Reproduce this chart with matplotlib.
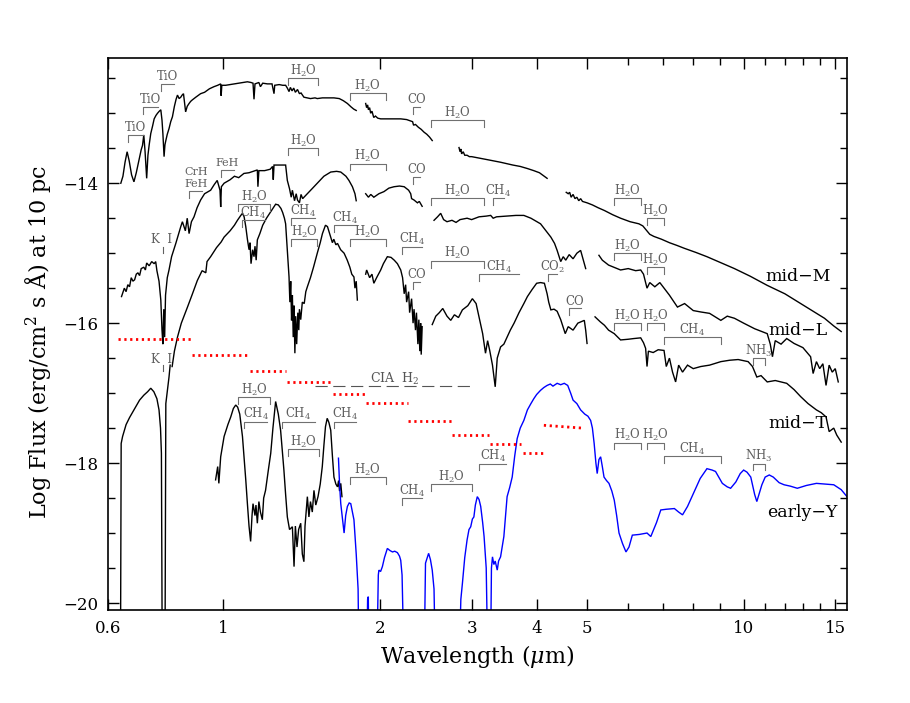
import numpy as np
import matplotlib
matplotlib.use('Agg')
import matplotlib.pyplot as plt
from matplotlib.ticker import FixedLocator, FixedFormatter, NullFormatter

plt.rcParams['font.family'] = ['DejaVu Serif']
plt.rcParams['mathtext.fontset'] = 'dejavuserif'

nan = np.nan

# ---------------- spectra: (wavelength [um], log flux) ----------------
mid_M = [
    (0.635, -14.00), (0.641, -13.90), (0.647, -13.70), (0.653, -13.55), (0.659, -13.68), (0.666, -13.88),
    (0.673, -13.98), (0.680, -13.85), (0.688, -13.67), (0.695, -13.52), (0.699, -13.46), (0.703, -13.31),
    (0.707, -13.55), (0.712, -13.93), (0.716, -13.60), (0.720, -13.45), (0.725, -13.29), (0.731, -13.18),
    (0.736, -13.08), (0.742, -13.03), (0.747, -13.00), (0.753, -12.97), (0.758, -12.95), (0.762, -13.10),
    (0.765, -13.29), (0.769, -13.62), (0.772, -13.45), (0.775, -13.39), (0.780, -13.30), (0.786, -13.22),
    (0.792, -13.12), (0.798, -13.05), (0.805, -12.90), (0.811, -12.80), (0.816, -12.74), (0.822, -12.79),
    (0.828, -12.77), (0.833, -12.74), (0.838, -12.72), (0.842, -12.85), (0.846, -12.98), (0.852, -12.90),
    (0.859, -12.86), (0.865, -12.83), (0.871, -12.81), (0.885, -12.77), (0.904, -12.72), (0.920, -12.70),
    (0.940, -12.65), (0.959, -12.62), (0.975, -12.60), (0.988, -12.58), (0.990, -12.75), (0.993, -12.60),
    (1.010, -12.60), (1.030, -12.59), (1.048, -12.58), (1.070, -12.57), (1.090, -12.56), (1.112, -12.55),
    (1.130, -12.56), (1.140, -12.57), (1.145, -12.80), (1.150, -12.58), (1.170, -12.56), (1.178, -12.62),
    (1.190, -12.57), (1.215, -12.58), (1.240, -12.58), (1.247, -12.67), (1.251, -12.72), (1.255, -12.60),
    (1.280, -12.59), (1.300, -12.60), (1.317, -12.60), (1.327, -12.64), (1.337, -12.69), (1.345, -12.63),
    (1.355, -12.68), (1.365, -12.64), (1.375, -12.70), (1.388, -12.66), (1.400, -12.72), (1.410, -12.71),
    (1.428, -12.77), (1.450, -12.78), (1.470, -12.79), (1.500, -12.78), (1.515, -12.79), (1.550, -12.78),
    (1.600, -12.78), (1.631, -12.78), (1.670, -12.79), (1.700, -12.82), (1.731, -12.86), (1.760, -12.91),
    (1.780, -12.94), (1.800, -12.96),
    (nan, nan),
    (1.877, -12.86), (1.885, -12.92), (1.893, -12.88), (1.900, -12.95), (1.910, -12.92), (1.919, -13.00),
    (1.930, -12.97), (1.945, -13.06), (1.960, -13.04), (1.980, -13.07), (2.006, -13.08), (2.050, -13.08),
    (2.100, -13.08), (2.150, -13.08), (2.192, -13.08), (2.250, -13.09), (2.290, -13.11), (2.310, -13.12),
    (2.320, -13.17), (2.340, -13.16), (2.370, -13.20), (2.400, -13.23), (2.430, -13.27), (2.460, -13.30),
    (2.490, -13.34), (2.520, -13.39),
    (nan, nan),
    (2.837, -13.49), (2.850, -13.55), (2.860, -13.51), (2.870, -13.58), (2.890, -13.55), (2.910, -13.60),
    (2.940, -13.60), (2.970, -13.62), (3.000, -13.62), (3.100, -13.64), (3.200, -13.66), (3.300, -13.68),
    (3.410, -13.70), (3.500, -13.72), (3.600, -13.74), (3.720, -13.76), (3.840, -13.79), (3.950, -13.82),
    (4.050, -13.85), (4.120, -13.89), (4.190, -13.93),
    (nan, nan),
    (4.56, -14.13), (4.60, -14.15), (4.63, -14.13), (4.66, -14.20), (4.70, -14.16), (4.74, -14.22),
    (4.78, -14.20), (4.82, -14.25), (4.86, -14.22), (4.90, -14.26), (5.00, -14.28), (5.12, -14.31),
    (5.25, -14.35), (5.40, -14.39), (5.60, -14.45), (5.80, -14.50), (6.05, -14.55), (6.29, -14.58),
    (6.40, -14.61), (6.50, -14.67), (6.60, -14.73), (6.72, -14.76), (6.95, -14.80), (7.20, -14.85),
    (7.45, -14.89), (7.69, -14.93), (8.10, -14.99), (8.50, -15.05), (9.00, -15.13), (9.60, -15.22),
    (10.3, -15.33), (11.1, -15.46), (12.0, -15.58), (12.87, -15.72), (13.6, -15.83), (14.3, -15.93),
    (14.9, -16.04), (15.4, -16.12),
]

mid_L = [
    (0.637, -15.62), (0.645, -15.50), (0.650, -15.55), (0.655, -15.45), (0.660, -15.48), (0.665, -15.35),
    (0.670, -15.40), (0.675, -15.38), (0.680, -15.30), (0.685, -15.28), (0.690, -15.32), (0.695, -15.22),
    (0.703, -15.20), (0.708, -15.24), (0.712, -15.14), (0.720, -15.18), (0.728, -15.12), (0.736, -15.15),
    (0.741, -15.12), (0.745, -15.25), (0.752, -15.40), (0.758, -15.67), (0.762, -16.10), (0.765, -16.30),
    (0.768, -15.80), (0.771, -16.20), (0.774, -15.60), (0.780, -15.35), (0.786, -15.24), (0.795, -15.05),
    (0.803, -14.95), (0.810, -14.86), (0.822, -14.70), (0.828, -14.62), (0.834, -14.55), (0.840, -14.62),
    (0.845, -14.68), (0.852, -14.50), (0.859, -14.72), (0.868, -14.55), (0.878, -14.48), (0.890, -14.35),
    (0.904, -14.24), (0.920, -14.15), (0.935, -14.12), (0.945, -14.10), (0.960, -14.02), (0.973, -13.96),
    (0.985, -14.10), (0.988, -14.34), (0.991, -14.05), (1.003, -14.00), (1.030, -13.95), (1.050, -13.90),
    (1.070, -13.92), (1.095, -13.86), (1.120, -13.85), (1.140, -13.83), (1.162, -13.81), (1.165, -14.05),
    (1.170, -13.82), (1.200, -13.82), (1.230, -13.80), (1.243, -13.76), (1.247, -13.95), (1.251, -13.74),
    (1.280, -13.74), (1.317, -13.74), (1.327, -13.96), (1.340, -14.08), (1.350, -14.20), (1.357, -14.10),
    (1.370, -14.25), (1.380, -14.15), (1.388, -14.24), (1.400, -14.28), (1.410, -14.16), (1.420, -14.22),
    (1.450, -14.15), (1.480, -14.08), (1.515, -14.00), (1.560, -13.90), (1.608, -13.84), (1.650, -13.83),
    (1.681, -13.84), (1.720, -13.90), (1.743, -13.96), (1.770, -14.05), (1.790, -14.15), (1.800, -14.25),
    (nan, nan),
    (1.877, -14.15), (1.900, -14.20), (1.920, -14.16), (1.946, -14.20), (1.990, -14.15), (2.035, -14.12),
    (2.080, -14.07), (2.128, -14.05), (2.180, -14.04), (2.226, -14.05), (2.270, -14.10), (2.291, -14.15),
    (2.300, -14.22), (2.325, -14.24), (2.360, -14.28), (2.380, -14.26), (2.410, -14.33),
    (nan, nan),
    (2.54, -14.53), (2.58, -14.48), (2.616, -14.43), (2.65, -14.52), (2.69, -14.55), (2.75, -14.53),
    (2.80, -14.56), (2.85, -14.52), (2.94, -14.50), (3.00, -14.52), (3.10, -14.48), (3.20, -14.47),
    (3.264, -14.46), (3.30, -14.50), (3.35, -14.48), (3.50, -14.47), (3.65, -14.46), (3.78, -14.46),
    (3.90, -14.50), (4.07, -14.58), (4.15, -14.66), (4.26, -14.77), (4.33, -14.86), (4.38, -14.96),
    (4.45, -15.12), (4.50, -15.05), (4.55, -15.10), (4.62, -15.02), (4.70, -15.08), (4.78, -15.00),
    (4.86, -14.96), (4.92, -15.10), (4.97, -15.22),
    (nan, nan),
    (5.27, -15.03), (5.35, -15.10), (5.50, -15.17), (5.80, -15.24), (6.00, -15.22), (6.20, -15.25),
    (6.34, -15.24), (6.42, -15.30), (6.52, -15.50), (6.60, -15.42), (6.75, -15.48), (6.90, -15.42),
    (7.03, -15.50), (7.20, -15.60), (7.46, -15.77), (7.70, -15.72), (8.00, -15.82), (8.27, -15.84),
    (8.60, -15.86), (9.04, -15.96), (9.30, -15.90), (9.60, -15.93), (10.0, -16.00), (10.5, -16.08),
    (11.1, -16.15), (11.25, -16.30), (11.36, -16.48), (11.5, -16.25), (11.8, -16.30), (12.1, -16.22),
    (12.5, -16.29), (13.0, -16.35), (13.45, -16.48), (13.6, -16.72), (13.8, -16.55), (14.0, -16.65),
    (14.2, -16.58), (14.4, -16.89), (14.6, -16.60), (14.8, -16.70), (15.0, -16.65), (15.2, -16.84),
]

mid_T = [
    (0.797, -16.62), (0.805, -16.40), (0.816, -16.20), (0.830, -16.00), (0.840, -15.90), (0.853, -15.77),
    (0.870, -15.60), (0.891, -15.39), (0.910, -15.25), (0.925, -15.28), (0.930, -15.12), (0.945, -15.05),
    (0.970, -14.92), (0.990, -14.84), (1.003, -14.77), (1.030, -14.68), (1.050, -14.60), (1.064, -14.53),
    (1.080, -14.46), (1.088, -14.43), (1.096, -14.48), (1.104, -14.62), (1.112, -14.80), (1.120, -14.95),
    (1.125, -14.85), (1.130, -15.15), (1.138, -14.95), (1.145, -15.05), (1.150, -14.90), (1.156, -15.10),
    (1.162, -14.81), (1.175, -14.72), (1.190, -14.60), (1.210, -14.50), (1.230, -14.42), (1.251, -14.34),
    (1.260, -14.30), (1.275, -14.31), (1.290, -14.36), (1.300, -14.42), (1.310, -14.50), (1.317, -14.58),
    (1.327, -14.95), (1.337, -15.34), (1.342, -15.70), (1.347, -15.40), (1.352, -15.96), (1.357, -15.60),
    (1.362, -16.20), (1.367, -15.75), (1.372, -16.43), (1.377, -15.90), (1.383, -16.30), (1.390, -15.85),
    (1.396, -16.10), (1.400, -15.80), (1.408, -15.95), (1.418, -15.70), (1.430, -15.72), (1.440, -15.55),
    (1.450, -15.48), (1.470, -15.35), (1.490, -15.20), (1.515, -15.00), (1.535, -14.85), (1.550, -14.72),
    (1.571, -14.60), (1.585, -14.62), (1.600, -14.72), (1.608, -14.77), (1.620, -14.85), (1.630, -14.80),
    (1.645, -14.88), (1.657, -14.86), (1.680, -14.95), (1.706, -15.00), (1.730, -15.10), (1.750, -15.20),
    (1.765, -15.30), (1.782, -15.34), (1.790, -15.50), (1.800, -15.40), (1.809, -15.67),
    (nan, nan),
    (1.877, -15.30), (1.885, -15.24), (1.910, -15.35), (1.930, -15.30), (1.946, -15.43), (1.970, -15.35),
    (2.006, -15.24), (2.030, -15.15), (2.066, -15.05), (2.100, -15.06), (2.130, -15.10), (2.160, -15.15),
    (2.192, -15.24), (2.210, -15.35), (2.226, -15.58), (2.240, -15.45), (2.250, -15.70), (2.270, -15.55),
    (2.280, -15.85), (2.300, -15.65), (2.315, -16.00), (2.325, -15.80), (2.340, -16.10), (2.350, -15.85),
    (2.365, -16.30), (2.375, -15.95), (2.385, -16.40), (2.394, -16.00), (2.400, -16.45), (2.410, -16.05),
    (nan, nan),
    (2.52, -16.02), (2.56, -15.90), (2.60, -15.85), (2.64, -15.79), (2.69, -15.90), (2.735, -15.96),
    (2.78, -15.88), (2.83, -15.92), (2.88, -15.81), (2.95, -15.75), (3.01, -15.65), (3.06, -15.72),
    (3.10, -15.91), (3.15, -16.15), (3.19, -16.43), (3.22, -16.25), (3.25, -16.39), (3.29, -16.60),
    (3.33, -16.91), (3.36, -16.50), (3.41, -16.34), (3.46, -16.30), (3.51, -16.20), (3.56, -16.10),
    (3.62, -16.00), (3.70, -15.85), (3.78, -15.72), (3.84, -15.62), (3.92, -15.52), (4.00, -15.43),
    (4.07, -15.42), (4.14, -15.43), (4.19, -15.58), (4.22, -15.70), (4.26, -15.81), (4.32, -15.80),
    (4.38, -15.83), (4.45, -15.95), (4.54, -16.15), (4.60, -16.05), (4.70, -16.10), (4.80, -16.00),
    (4.94, -15.96), (4.97, -16.10), (5.00, -16.29),
    (nan, nan),
    (5.18, -15.91), (5.30, -15.98), (5.40, -16.03), (5.50, -16.10), (5.64, -16.15), (5.80, -16.24),
    (6.00, -16.23), (6.15, -16.22), (6.34, -16.21), (6.42, -16.28), (6.48, -16.36), (6.52, -16.62),
    (6.56, -16.40), (6.70, -16.42), (6.85, -16.38), (7.03, -16.39), (7.10, -16.62), (7.20, -16.50),
    (7.30, -16.70), (7.40, -16.84), (7.50, -16.60), (7.63, -16.70), (7.80, -16.60), (8.00, -16.65),
    (8.27, -16.62), (8.60, -16.60), (9.04, -16.55), (9.40, -16.53), (9.76, -16.52), (10.2, -16.55),
    (10.4, -16.62), (10.6, -16.77), (10.8, -16.75), (11.1, -16.84), (11.5, -16.82), (12.1, -16.86),
    (12.5, -16.95), (12.87, -17.05), (13.3, -17.15), (13.8, -17.24), (14.1, -17.28), (14.4, -17.34),
    (14.6, -17.55), (14.9, -17.50), (15.1, -17.60), (15.4, -17.70),
]

early_Y_black = [
    (0.634, -21.0), (0.636, -17.72), (0.640, -17.62), (0.650, -17.45), (0.660, -17.35), (0.673, -17.24),
    (0.690, -17.10), (0.703, -17.03), (0.715, -16.98), (0.725, -16.93), (0.735, -16.98), (0.745, -17.08),
    (0.752, -17.24), (0.757, -17.50), (0.760, -17.86), (0.763, -21.0), (0.772, -21.0), (0.775, -17.15),
    (0.786, -16.77), (0.790, -16.60),
    (nan, nan),
    (0.966, -18.24), (0.975, -18.05), (0.980, -18.29), (0.988, -17.91), (1.003, -17.62), (1.020, -17.45),
    (1.033, -17.34), (1.045, -17.22), (1.056, -17.17), (1.065, -17.20), (1.075, -17.30), (1.088, -17.62),
    (1.104, -18.24), (1.112, -18.58), (1.120, -18.90), (1.128, -19.12), (1.135, -18.75), (1.140, -18.58),
    (1.150, -18.75), (1.155, -18.60), (1.162, -18.86), (1.170, -18.55), (1.178, -18.70), (1.188, -18.81),
    (1.195, -18.50), (1.205, -18.39), (1.220, -18.10), (1.233, -17.86), (1.245, -17.50), (1.260, -17.12),
    (1.275, -17.30), (1.288, -17.53), (1.297, -17.80), (1.307, -18.10), (1.317, -18.45), (1.327, -18.77),
    (1.340, -18.95), (1.357, -18.91), (1.367, -19.48), (1.375, -18.90), (1.385, -19.20), (1.395, -18.95),
    (1.408, -18.86), (1.418, -19.30), (1.428, -19.41), (1.435, -18.90), (1.450, -18.48), (1.460, -18.77),
    (1.470, -18.55), (1.482, -18.70), (1.493, -18.39), (1.505, -18.60), (1.520, -18.48), (1.535, -18.30),
    (1.549, -18.05), (1.560, -17.75), (1.571, -17.48), (1.583, -17.36), (1.595, -17.42), (1.608, -17.53),
    (1.620, -17.90), (1.631, -18.20), (1.645, -18.30), (1.657, -18.34), (1.665, -18.25), (1.672, -18.40),
    (1.681, -18.29), (1.690, -18.48),
]

early_Y_blue = [
    (1.664, -17.93), (1.672, -18.30), (1.681, -18.58), (1.694, -18.80), (1.706, -19.00), (1.718, -18.75),
    (1.731, -18.62), (1.745, -18.57), (1.757, -18.58), (1.770, -18.70), (1.782, -18.81), (1.800, -19.30),
    (1.815, -19.80), (1.823, -21.0), (1.885, -21.0), (1.893, -19.95), (1.899, -19.91), (1.905, -21.0),
    (1.970, -21.0), (1.985, -19.60), (1.990, -19.53), (2.005, -19.55), (2.021, -19.48), (2.040, -19.35),
    (2.066, -19.22), (2.090, -19.25), (2.113, -19.27), (2.135, -19.26), (2.160, -19.28), (2.180, -19.33),
    (2.192, -19.39), (2.205, -19.60), (2.226, -21.0), (2.430, -21.0), (2.446, -19.43), (2.480, -19.29),
    (2.500, -19.38), (2.520, -19.53), (2.540, -19.80), (2.557, -21.0), (2.837, -21.0), (2.860, -19.95),
    (2.880, -19.72), (2.910, -19.35), (2.940, -19.10), (2.965, -18.95), (2.988, -18.91), (3.010, -18.80),
    (3.030, -18.77), (3.050, -18.60), (3.076, -18.48), (3.100, -18.52), (3.123, -18.62), (3.150, -18.85),
    (3.170, -19.05), (3.200, -19.50), (3.225, -21.0), (3.260, -21.0), (3.275, -19.50), (3.290, -19.34),
    (3.310, -19.45), (3.330, -19.40), (3.360, -19.53), (3.380, -19.40), (3.410, -19.34), (3.460, -19.05),
    (3.510, -18.48), (3.550, -18.35), (3.590, -18.20), (3.630, -17.90), (3.670, -17.65), (3.720, -17.50),
    (3.780, -17.39), (3.840, -17.24), (3.900, -17.15), (3.950, -17.08), (4.000, -17.02), (4.070, -16.96),
    (4.130, -16.92), (4.190, -16.89), (4.250, -16.87), (4.300, -16.90), (4.380, -16.86), (4.450, -16.88),
    (4.520, -16.86), (4.590, -16.89), (4.650, -17.00), (4.700, -17.10), (4.780, -17.15), (4.860, -17.24),
    (4.950, -17.30), (5.020, -17.33), (5.080, -17.39), (5.120, -17.50), (5.160, -17.72), (5.200, -18.00),
    (5.230, -18.15), (5.270, -17.95), (5.310, -17.91), (5.350, -18.05), (5.390, -18.20), (5.450, -18.25),
    (5.510, -18.29), (5.580, -18.40), (5.640, -18.53), (5.700, -18.75), (5.760, -19.00), (5.850, -19.15),
    (5.940, -19.27), (6.020, -19.20), (6.110, -19.03), (6.300, -19.02), (6.520, -19.00), (6.630, -19.05),
    (6.800, -18.85), (6.930, -18.67), (7.100, -18.66), (7.360, -18.65), (7.500, -18.70), (7.630, -18.74),
    (7.800, -18.62), (8.010, -18.43), (8.250, -18.22), (8.500, -18.08), (8.700, -18.10), (8.830, -18.12),
    (9.100, -18.29), (9.300, -18.34), (9.440, -18.36), (9.660, -18.27), (9.850, -18.15), (10.00, -18.10),
    (10.15, -18.13), (10.32, -18.20), (10.50, -18.45), (10.60, -18.55), (10.70, -18.45), (10.84, -18.31),
    (11.00, -18.20), (11.20, -18.17), (11.40, -18.20), (11.70, -18.28), (11.96, -18.31), (12.30, -18.33),
    (12.68, -18.36), (13.20, -18.32), (13.80, -18.29), (14.30, -18.30), (14.90, -18.31), (15.40, -18.38),
    (15.80, -18.48),
]

# photometric bands (red dotted): start, end wavelength, log flux at start, at end
phot_x0 = [0.626, 0.871, 1.125, 1.327, 1.626, 1.877, 2.26, 2.75, 3.26, 3.76, 4.13]
phot_x1 = [0.875, 1.120, 1.320, 1.626, 1.870, 2.260, 2.75, 3.24, 3.74, 4.13, 4.90]
phot_y0 = [-16.23, -16.45, -16.68, -16.84, -17.01, -17.14, -17.40, -17.60, -17.73, -17.85, -17.46]
phot_y1 = [-16.23, -16.45, -16.68, -16.84, -17.01, -17.14, -17.40, -17.60, -17.73, -17.85, -17.50]

# CIA H2 dashed line
cia_x = [1.503, 3.0]
cia_y = [-16.90, -16.90]

# band labels: text, start, end wavelength, bracket level, end ticks ('b' both, 'l' left, 'n' none)
band_text = ['TiO', 'TiO', 'TiO', 'H$_2$O', 'H$_2$O', 'CO', 'H$_2$O', 'H$_2$O', 'H$_2$O',
             'CrH', 'FeH', 'FeH', 'H$_2$O', 'H$_2$O', 'CO', 'H$_2$O', 'CH$_4$', 'H$_2$O', 'H$_2$O',
             'H$_2$O', 'CH$_4$', 'CH$_4$', 'H$_2$O', 'CH$_4$', 'H$_2$O', 'CH$_4$', 'CO', 'H$_2$O',
             'CH$_4$', 'CO$_2$', 'CO', 'H$_2$O', 'H$_2$O', 'CH$_4$', 'NH$_3$',
             'H$_2$O', 'CH$_4$', 'CH$_4$', 'H$_2$O', 'CH$_4$', 'H$_2$O', 'CH$_4$', 'H$_2$O', 'CH$_4$',
             'H$_2$O', 'H$_2$O', 'CH$_4$', 'NH$_3$']
band_x0 = [0.656, 0.700, 0.758, 1.33, 1.75, 2.31, 2.51, 5.64, 6.52,
           0.859, 0.859, 0.988, 1.33, 1.75, 2.31, 2.51, 3.30, 5.64, 6.52,
           1.069, 1.088, 1.347, 1.347, 1.631, 1.75, 2.20, 2.31, 2.51,
           3.10, 4.20, 4.61, 5.64, 6.52, 7.03, 10.4,
           1.069, 1.095, 1.298, 1.33, 1.631, 1.75, 2.20, 2.51, 3.10,
           5.64, 6.52, 7.03, 10.4]
band_x1 = [0.699, 0.747, 0.804, 1.522, 2.05, 2.39, 3.17, 6.34, 7.03,
           0.911, 0.911, 1.048, 1.522, 2.05, 2.39, 3.17, 3.46, 6.34, 7.03,
           1.229, 1.200, 1.498, 1.515, 1.796, 2.05, 2.41, 2.39, 3.17,
           3.70, 4.38, 4.86, 6.34, 7.03, 9.04, 11.0,
           1.229, 1.215, 1.498, 1.526, 1.796, 2.05, 2.41, 3.00, 3.50,
           6.34, 7.03, 9.04, 11.0]
band_y = [-13.31, -12.91, -12.58, -12.50, -12.71, -12.91, -13.10, -14.21, -14.50,
          -13.93, -14.11, -13.81, -13.50, -13.72, -13.91, -14.21, -14.21, -15.00, -15.20,
          -14.30, -14.53, -14.50, -14.80, -14.60, -14.80, -14.91, -15.41, -15.11,
          -15.30, -15.30, -15.79, -16.00, -16.00, -16.20, -16.50,
          -17.06, -17.41, -17.41, -17.80, -17.41, -18.20, -18.50, -18.30, -18.01,
          -17.71, -17.71, -17.90, -18.01]
band_ends = ['l', 'l', 'l', 'b', 'b', 'l', 'b', 'b', 'b',
             'n', 'l', 'l', 'b', 'b', 'l', 'b', 'l', 'b', 'b',
             'b', 'l', 'l', 'b', 'l', 'b', 'l', 'l', 'b',
             'l', 'l', 'l', 'b', 'b', 'b', 'b',
             'b', 'l', 'l', 'b', 'l', 'b', 'l', 'b', 'l',
             'b', 'b', 'b', 'b']

# K I markers: text position and tick
ki_x = [0.760, 0.760]
ki_y = [-14.81, -16.52]
ki_tick_x = [0.767, 0.767]
ki_tick_top = [-14.91, -16.60]
ki_tick_bot = [-15.00, -16.68]

# spectral-type names
type_text = ['mid\u2212M', 'mid\u2212L', 'mid\u2212T', 'early\u2212Y']
type_x = [12.7, 12.7, 12.7, 12.97]
type_y = [-15.34, -16.10, -17.43, -18.70]

x_ticks = [0.6, 1, 2, 3, 4, 5, 10, 15]
x_tick_labels = ['0.6', '1', '2', '3', '4', '5', '10', '15']
x_minor = [6, 7, 8, 9, 11, 12, 13, 14]
y_ticks = [-20, -18, -16, -14]
y_minor = [-19.5, -19, -18.5, -17.5, -17, -16.5, -15.5, -15, -14.5, -13.5, -13, -12.5]

# ---------------- figure ----------------
fig = plt.figure(figsize=(9.1, 7.03), dpi=100)
ax = fig.add_axes([108 / 910, 1 - 610 / 703, (847 - 108) / 910, (610 - 58) / 703])
ax.set_xscale('log')
ax.set_xlim(0.6, 15.8)
ax.set_ylim(-20.1, -12.21)

def draw(pairs, color, lw):
    arr = np.array(pairs, dtype=float)
    ax.plot(arr[:, 0], arr[:, 1], color=color, lw=lw, solid_joinstyle='miter')

draw(mid_M, 'black', 1.0)
draw(mid_L, 'black', 1.0)
draw(mid_T, 'black', 1.0)
draw(early_Y_black, 'black', 1.0)
draw(early_Y_blue, '#0000ff', 1.0)

for x0, x1, y0, y1 in zip(phot_x0, phot_x1, phot_y0, phot_y1):
    ax.plot([x0, x1], [y0, y1], color='red', lw=2.0, linestyle=(0, (0.8, 1.3)),
            dash_capstyle='butt')

ax.plot(cia_x, cia_y, color='#555555', lw=0.8, linestyle=(0, (11, 5)))
ax.text(2.13, -16.90 + 0.05, 'CIA  H$_2$', color='#555555', fontsize=9,
        ha='center', va='baseline')

grey = '#606060'
tick_d = 0.095
for t, x0, x1, y, e in zip(band_text, band_x0, band_x1, band_y, band_ends):
    if e == 'b':
        ax.plot([x0, x0, x1, x1], [y - tick_d, y, y, y - tick_d], color='#707070', lw=0.8)
    elif e == 'l':
        ax.plot([x0, x0, x1], [y - tick_d, y, y], color='#707070', lw=0.8)
    xc = np.sqrt(x0 * x1)
    fs = 8.0 if t in ('CrH', 'FeH') else 8.5
    ax.text(xc, y + 0.05, t, color=grey, fontsize=fs, ha='center', va='baseline')

for tx, ty, kx, k0, k1 in zip(ki_x, ki_y, ki_tick_x, ki_tick_top, ki_tick_bot):
    ax.text(tx, ty, 'K  I', color=grey, fontsize=8.5, ha='center', va='center')
    ax.plot([kx, kx], [k0, k1], color=grey, lw=0.8)

for t, x, y in zip(type_text, type_x, type_y):
    ax.text(x, y, t, fontsize=12.5, ha='center', va='center', color='black')

ax.xaxis.set_major_locator(FixedLocator(x_ticks))
ax.xaxis.set_major_formatter(FixedFormatter(x_tick_labels))
ax.xaxis.set_minor_locator(FixedLocator(x_minor))
ax.xaxis.set_minor_formatter(NullFormatter())
ax.yaxis.set_major_locator(FixedLocator(y_ticks))
ax.yaxis.set_minor_locator(FixedLocator(y_minor))
ax.tick_params(which='both', direction='in', top=True, right=True, width=1.0)
ax.tick_params(which='major', length=8, labelsize=12, pad=7)
ax.tick_params(which='minor', length=5)
for s in ax.spines.values():
    s.set_linewidth(1.2)

fig.text(477.5 / 910, 1 - 657 / 703, 'Wavelength ($\\mu$m)', fontsize=16,
         ha='center', va='center')
fig.text(38 / 910, 1 - 342 / 703, 'Log Flux (erg/cm$^2$ s \u00c5) at 10 pc', fontsize=16,
         ha='center', va='center', rotation=90)

fig.savefig('out.png', dpi=100)
